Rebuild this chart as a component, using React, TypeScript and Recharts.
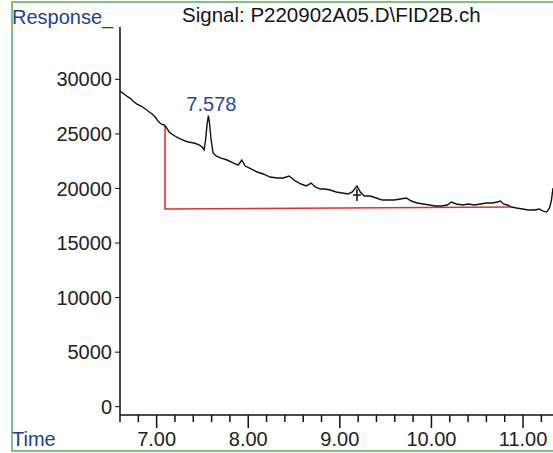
import React from "react";
import {
  ComposedChart,
  Line,
  XAxis,
  YAxis,
  Scatter,
  ReferenceDot,
} from "recharts";

// ---- data (time in min, response in counts) ----
const TRACE_T = [
  6.6, 6.644, 6.687, 6.72, 6.753, 6.786, 6.83, 6.862, 6.906, 6.95, 6.983, 7.015,
  7.048, 7.081, 7.103, 7.136, 7.18, 7.234, 7.289, 7.343, 7.409, 7.463, 7.496,
  7.518, 7.534, 7.551, 7.565, 7.578, 7.595, 7.616, 7.649, 7.704, 7.769, 7.835,
  7.89, 7.93, 7.966, 8.032, 8.097, 8.163, 8.239, 8.316, 8.381, 8.447, 8.513,
  8.578, 8.633, 8.687, 8.731, 8.786, 8.84, 8.895, 8.961, 9.026, 9.092, 9.136,
  9.187, 9.223, 9.267, 9.332, 9.398, 9.463, 9.529, 9.594, 9.66, 9.726, 9.78,
  9.846, 9.911, 9.977, 10.043, 10.108, 10.174, 10.218, 10.272, 10.338, 10.403,
  10.469, 10.534, 10.6, 10.666, 10.72, 10.753, 10.786, 10.83, 10.873, 10.928,
  10.993, 11.059, 11.124, 11.179, 11.212, 11.256, 11.289, 11.31, 11.327,
];
const TRACE_V = [
  28930, 28660, 28390, 28200, 27930, 27740, 27560, 27380, 27100, 26830, 26550,
  26190, 25910, 25820, 25640, 25180, 24900, 24630, 24440, 24260, 24170, 23990,
  23800, 23530, 24440, 25910, 26670, 25910, 24440, 23250, 22980, 22790, 22610,
  22340, 22150, 22610, 22060, 21790, 21510, 21330, 21050, 20960, 20960, 21140,
  20690, 20410, 20230, 20500, 20140, 19950, 19950, 19860, 19680, 19590, 19500,
  19680, 20230, 19680, 19310, 19310, 19130, 18940, 18940, 18940, 19040, 19130,
  18850, 18670, 18580, 18490, 18400, 18400, 18490, 18760, 18580, 18490, 18580,
  18490, 18580, 18670, 18670, 18760, 18850, 18580, 18490, 18300, 18210, 18120,
  18030, 18030, 18120, 17940, 17840, 18210, 18940, 20040,
];

// integration baseline (drop line + baseline)
const BASE_T = [7.092, 7.092, 10.862];
const BASE_V = [25780, 18120, 18300];

// peak label
const PEAK_T = 7.565;
const PEAK_V = 26670;
const PEAK_LABEL = "7.578";

// small marked peak
const MARK_T = [9.187];
const MARK_V = [19400];

const Y_TICKS = [0, 5000, 10000, 15000, 20000, 25000, 30000];
const X_MINOR_TICKS = [
  6.6, 6.8, 7.0, 7.2, 7.4, 7.6, 7.8, 8.0, 8.2, 8.4, 8.6, 8.8, 9.0, 9.2, 9.4,
  9.6, 9.8, 10.0, 10.2, 10.4, 10.6, 10.8, 11.0, 11.2,
];
const X_MAJOR_TICKS = [7, 8, 9, 10, 11];

const TITLE = "Signal: P220902A05.D\\FID2B.ch";
const Y_TITLE = "Response_";
const X_TITLE = "Time";

const traceData = TRACE_T.map((t, i) => ({ t, v: TRACE_V[i] }));
const baseData = BASE_T.map((t, i) => ({ t, v: BASE_V[i] }));
const markData = MARK_T.map((t, i) => ({ t, v: MARK_V[i] }));

const FONT = "'Liberation Sans', Arial, sans-serif";
const BLUE = "#1f3c9e";

const XTick = (props: any) => {
  const { x, y, payload } = props;
  const val = payload.value as number;
  const major = X_MAJOR_TICKS.some((m) => Math.abs(m - val) < 1e-6);
  return (
    <g>
      <line
        x1={x}
        y1={y}
        x2={x}
        y2={y + (major ? 13 : 7)}
        stroke="#111"
        strokeWidth={1.5}
      />
      {major && (
        <text
          x={x}
          y={y + 31}
          textAnchor="middle"
          fontSize={20}
          fontFamily={FONT}
          fill="#222"
        >
          {val.toFixed(2)}
        </text>
      )}
    </g>
  );
};

const CrossShape = (props: any) => {
  const { cx, cy } = props;
  return (
    <g>
      <line x1={cx} y1={cy - 6} x2={cx} y2={cy + 6} stroke="#111" strokeWidth={1.5} />
      <line x1={cx - 4} y1={cy} x2={cx + 4} y2={cy} stroke="#111" strokeWidth={1.5} />
    </g>
  );
};

export default function App() {
  return (
    <div
      style={{
        position: "absolute",
        left: 0,
        top: 0,
        width: 553,
        height: 453,
        overflow: "hidden",
        background: "#fff",
      }}
    >
      <svg
        width={553}
        height={453}
        style={{ position: "absolute", left: 0, top: 0 }}
      >
        <rect
          x={12}
          y={2}
          width={620}
          height={449}
          fill="none"
          stroke="#7cc480"
          strokeWidth={2}
        />
        <text x={12} y={24} fontSize={20} fontFamily={FONT} fill={BLUE}>
          {Y_TITLE}
        </text>
        <text x={182} y={22} fontSize={20.5} fontFamily={FONT} fill="#151515">
          {TITLE}
        </text>
        <text x={12} y={446} fontSize={20} fontFamily={FONT} fill={BLUE}>
          {X_TITLE}
        </text>
      </svg>
      <div style={{ position: "absolute", left: 0, top: 0 }}>
        <ComposedChart
          width={553}
          height={453}
          margin={{ top: 27, right: 0, bottom: 0, left: 0 }}
        >
          <XAxis
            type="number"
            dataKey="t"
            domain={[6.6, 11.327]}
            allowDataOverflow
            ticks={X_MINOR_TICKS}
            interval={0}
            height={38}
            tickSize={0}
            tickMargin={0}
            tickLine={false}
            tick={<XTick />}
            axisLine={{ stroke: "#111", strokeWidth: 1.5 }}
          />
          <YAxis
            type="number"
            dataKey="v"
            domain={[-760, 34800]}
            allowDataOverflow
            ticks={Y_TICKS}
            interval={0}
            width={120}
            tickSize={5}
            tickMargin={3}
            tickLine={{ stroke: "#111", strokeWidth: 1 }}
            axisLine={{ stroke: "#111", strokeWidth: 1.5 }}
            tick={{ fontSize: 20, fill: "#222", fontFamily: FONT }}
          />
          <Line
            data={baseData}
            dataKey="v"
            type="linear"
            stroke="#e0302c"
            strokeWidth={1.6}
            dot={false}
            isAnimationActive={false}
          />
          <Line
            data={traceData}
            dataKey="v"
            type="linear"
            stroke="#111"
            strokeWidth={1.4}
            dot={false}
            isAnimationActive={false}
          />
          <Scatter
            data={markData}
            dataKey="v"
            shape={<CrossShape />}
            isAnimationActive={false}
          />
          <ReferenceDot
            x={PEAK_T}
            y={PEAK_V}
            r={0}
            fill="none"
            stroke="none"
            label={{
              value: PEAK_LABEL,
              position: "top",
              offset: 5,
              dx: 3,
              fill: "#1f4aa8",
              fontSize: 20,
              fontFamily: FONT,
            }}
          />
        </ComposedChart>
      </div>
    </div>
  );
}
